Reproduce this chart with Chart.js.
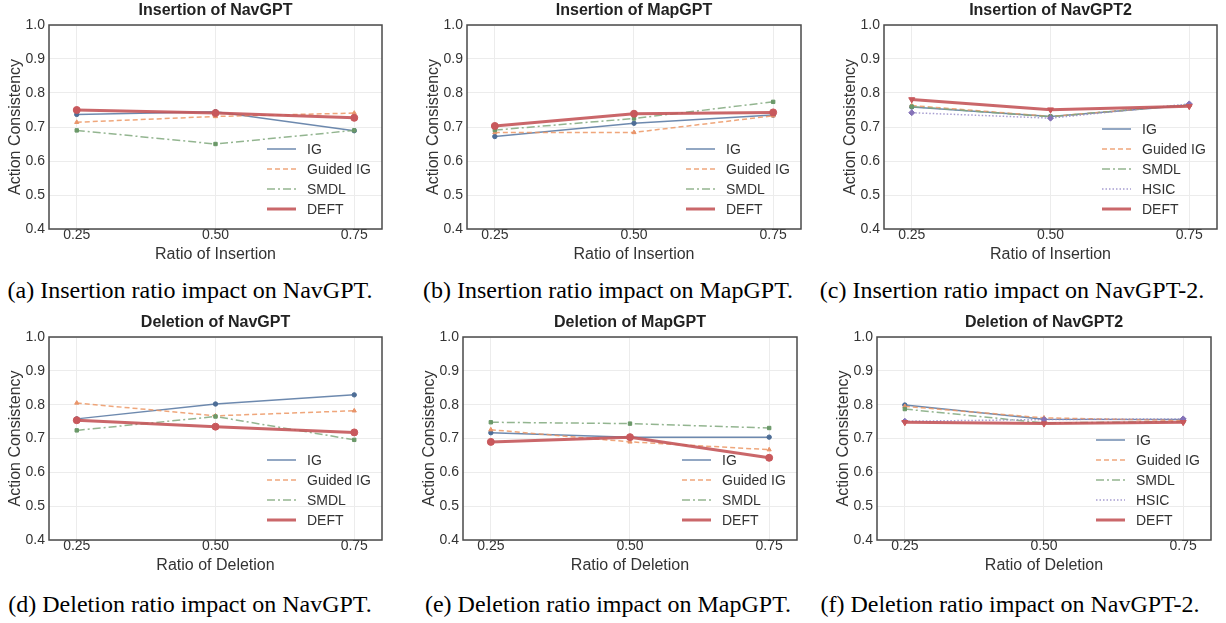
<!DOCTYPE html>
<html><head><meta charset="utf-8">
<script src="https://cdn.jsdelivr.net/npm/chart.js@4"></script>
<style>
body{margin:0;background:#fff;width:1226px;height:623px;position:relative;overflow:hidden;font-family:"Liberation Sans",Arial,sans-serif}
canvas{position:absolute}
.cap{position:absolute;font-family:"Liberation Serif","Times New Roman",serif;font-size:24px;color:#000;white-space:nowrap;text-align:center;width:440px;line-height:30px}
</style></head><body>
<canvas id="ca"></canvas><canvas id="cb"></canvas><canvas id="cc"></canvas>
<canvas id="cd"></canvas><canvas id="ce"></canvas><canvas id="cf"></canvas>
<div class="cap" style="left:-30px;top:275px">(a) Insertion ratio impact on NavGPT.</div>
<div class="cap" style="left:388px;top:275px">(b) Insertion ratio impact on MapGPT.</div>
<div class="cap" style="left:792px;top:275px">(c) Insertion ratio impact on NavGPT-2.</div>
<div class="cap" style="left:-30px;top:589px">(d) Deletion ratio impact on NavGPT.</div>
<div class="cap" style="left:388px;top:589px">(e) Deletion ratio impact on MapGPT.</div>
<div class="cap" style="left:790px;top:589px">(f) Deletion ratio impact on NavGPT-2.</div>
<script>
// ---- data ----
const xRatios = [0.25, 0.50, 0.75];
const xTickLabels = ['0.25', '0.50', '0.75'];
const yTickValues = [0.4, 0.5, 0.6, 0.7, 0.8, 0.9, 1.0];

const insNavGPT_IG       = [0.737, 0.745, 0.689];
const insNavGPT_GuidedIG = [0.714, 0.731, 0.741];
const insNavGPT_SMDL     = [0.690, 0.650, 0.690];
const insNavGPT_DEFT     = [0.750, 0.741, 0.727];

const insMapGPT_IG       = [0.672, 0.711, 0.735];
const insMapGPT_GuidedIG = [0.684, 0.684, 0.733];
const insMapGPT_SMDL     = [0.691, 0.725, 0.774];
const insMapGPT_DEFT     = [0.703, 0.739, 0.743];

const insNavGPT2_IG       = [0.759, 0.731, 0.764];
const insNavGPT2_GuidedIG = [0.763, 0.731, 0.765];
const insNavGPT2_SMDL     = [0.760, 0.730, 0.766];
const insNavGPT2_HSIC     = [0.742, 0.726, 0.768];
const insNavGPT2_DEFT     = [0.781, 0.751, 0.761];

const delNavGPT_IG       = [0.758, 0.802, 0.829];
const delNavGPT_GuidedIG = [0.805, 0.767, 0.782];
const delNavGPT_SMDL     = [0.724, 0.765, 0.696];
const delNavGPT_DEFT     = [0.754, 0.735, 0.718];

const delMapGPT_IG       = [0.717, 0.704, 0.704];
const delMapGPT_GuidedIG = [0.726, 0.690, 0.667];
const delMapGPT_SMDL     = [0.748, 0.744, 0.731];
const delMapGPT_DEFT     = [0.690, 0.704, 0.643];

const delNavGPT2_IG       = [0.799, 0.757, 0.756];
const delNavGPT2_GuidedIG = [0.795, 0.761, 0.753];
const delNavGPT2_SMDL     = [0.787, 0.746, 0.750];
const delNavGPT2_HSIC     = [0.751, 0.756, 0.758];
const delNavGPT2_DEFT     = [0.748, 0.744, 0.748];

// ---- styles ----
const FONT = '"Liberation Sans", Arial, sans-serif';
const STY = {
  'IG':        {line:'rgba(84,116,160,0.85)', pt:'#4d6d96', w:1.5, dash:[], ps:'circle', r:2.2},
  'Guided IG': {line:'rgba(236,150,100,0.85)', pt:'#e8946a', w:1.5, dash:[5,3], ps:'triangle', r:2.4},
  'SMDL':      {line:'rgba(128,168,124,0.85)', pt:'#6a9868', w:1.5, dash:[8,3,2,3], ps:'rect', r:2.4},
  'HSIC':      {line:'rgba(150,140,200,0.85)', pt:'#8572b8', w:1.5, dash:[1.5,2], ps:'rectRot', r:3},
  'DEFT':      {line:'rgba(196,86,90,0.9)', pt:'#c8585c', w:3, dash:[], ps:'circle', r:3.5}
};

const framePlugin = {
  id:'frame',
  beforeDatasetsDraw(chart){
    const a = chart.chartArea, c = chart.ctx;
    c.save(); c.strokeStyle='#4a4a4a'; c.lineWidth=1.5;
    c.strokeRect(a.left, a.top, a.right-a.left, a.bottom-a.top); c.restore();
  },
  afterDraw(chart){
    const a = chart.chartArea, c = chart.ctx, ds = chart.data.datasets;
    c.save();
    // panel title, centred over the plot area
    c.font = 'bold 16px ' + FONT; c.fillStyle = '#222'; c.textAlign = 'center'; c.textBaseline = 'middle';
    c.fillText(chart.options.plugins.panelTitle, (a.left + a.right) / 2, a.top - 14);
    // legend
    const textX = a.right - 75, x1 = textX - 11, x0 = x1 - 29;
    const n = ds.length;
    c.textAlign = 'left';
    c.font = '14px ' + FONT; c.fillStyle='#333';
    ds.forEach((d,i)=>{
      const y = a.bottom - 20 - (n-1-i)*20;
      c.beginPath(); c.strokeStyle=d.borderColor; c.lineWidth=d.borderWidth;
      c.setLineDash(d.borderDash||[]); c.moveTo(x0,y); c.lineTo(x1,y); c.stroke();
      c.fillText(d.label, textX, y+1);
    });
    c.restore();
  }
};

function makeChart(id, L, R, T, B, title, xTitle, names, series, deftTri){
  const cv = document.getElementById(id);
  const left = L - 49, top = T - 25, w = R + 8 - left, h = B + 41 - top;
  cv.width = w; cv.height = h; cv.style.left = left+'px'; cv.style.top = top+'px';
  const n = names.length;
  const datasets = names.map((nm,i)=>{
    const s = STY[nm];
    const tri = (nm==='DEFT' && deftTri);
    return {
      label:nm,
      data: xRatios.map((x,j)=>({x:x, y:series[i][j]})),
      borderColor:s.line, borderWidth:s.w, borderDash:s.dash,
      pointStyle: tri ? 'triangle' : s.ps, rotation: tri ? 180 : 0,
      pointRadius: s.r, pointBackgroundColor:s.pt, pointBorderColor:s.pt, pointBorderWidth:1,
      tension:0, order: n - i
    };
  });
  new Chart(cv, {
    type:'line',
    data:{datasets},
    plugins:[framePlugin],
    options:{
      responsive:false, animation:false, events:[],
      layout:{padding:{left:0, right:8, top:25, bottom:0}},
      plugins:{
        legend:{display:false}, tooltip:{enabled:false}, title:{display:false},
        panelTitle: title
      },
      scales:{
        x:{type:'linear', min:0.2, max:0.8,
           afterBuildTicks(s){ s.ticks = xRatios.map(v=>({value:v})); },
           afterFit(s){ s.height = 41; },
           ticks:{color:'#333', font:{family:FONT, size:14}, padding:-2,
                  callback:(v)=>{const k = xRatios.indexOf(v); return k>=0 ? xTickLabels[k] : '';}},
           grid:{color:'#ececec', lineWidth:1, drawTicks:false},
           border:{display:false},
           title:{display:true, text:xTitle, color:'#333', font:{family:FONT, size:16}, padding:{top:0, bottom:6}}
        },
        y:{type:'linear', min:0.4, max:1.0,
           afterBuildTicks(s){ s.ticks = yTickValues.map(v=>({value:v})); },
           afterFit(s){ s.width = 49; },
           ticks:{color:'#333', font:{family:FONT, size:14}, padding:4, callback:(v)=>v.toFixed(1)},
           grid:{color:'#ececec', lineWidth:1, drawTicks:false},
           border:{display:false},
           title:{display:true, text:'Action Consistency', color:'#333', font:{family:FONT, size:16}, padding:{top:6, bottom:0}}
        }
      }
    }
  });
}

const names4 = ['IG','Guided IG','SMDL','DEFT'];
const names5 = ['IG','Guided IG','SMDL','HSIC','DEFT'];
makeChart('ca', 49, 382, 25, 229, 'Insertion of NavGPT', 'Ratio of Insertion', names4,
  [insNavGPT_IG, insNavGPT_GuidedIG, insNavGPT_SMDL, insNavGPT_DEFT], false);
makeChart('cb', 467, 801, 25, 229, 'Insertion of MapGPT', 'Ratio of Insertion', names4,
  [insMapGPT_IG, insMapGPT_GuidedIG, insMapGPT_SMDL, insMapGPT_DEFT], false);
makeChart('cc', 884, 1217, 25, 229, 'Insertion of NavGPT2', 'Ratio of Insertion', names5,
  [insNavGPT2_IG, insNavGPT2_GuidedIG, insNavGPT2_SMDL, insNavGPT2_HSIC, insNavGPT2_DEFT], true);
makeChart('cd', 49, 382, 337, 540, 'Deletion of NavGPT', 'Ratio of Deletion', names4,
  [delNavGPT_IG, delNavGPT_GuidedIG, delNavGPT_SMDL, delNavGPT_DEFT], false);
makeChart('ce', 463, 797, 337, 540, 'Deletion of MapGPT', 'Ratio of Deletion', names4,
  [delMapGPT_IG, delMapGPT_GuidedIG, delMapGPT_SMDL, delMapGPT_DEFT], false);
makeChart('cf', 877, 1211, 337, 540, 'Deletion of NavGPT2', 'Ratio of Deletion', names5,
  [delNavGPT2_IG, delNavGPT2_GuidedIG, delNavGPT2_SMDL, delNavGPT2_HSIC, delNavGPT2_DEFT], true);
</script>
</body></html>
